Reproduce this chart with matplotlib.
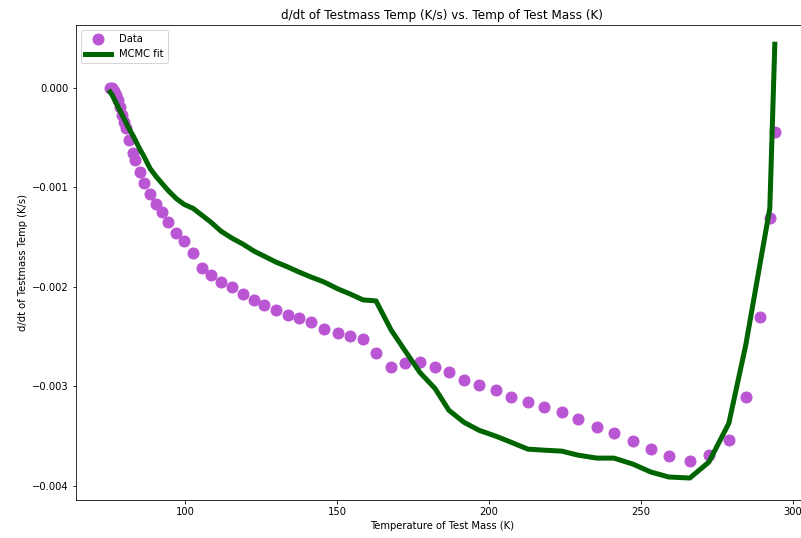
import matplotlib
matplotlib.use("Agg")
import matplotlib.pyplot as plt

temp = [75.33, 75.99, 76.64, 77.30, 77.96, 78.62, 79.28, 79.93, 80.59, 81.58,
        82.89, 83.55, 85.20, 86.51, 88.49, 90.46, 92.43, 94.41, 97.04, 99.67,
        102.63, 105.59, 108.55, 111.84, 115.46, 119.08, 122.70, 125.99, 129.93, 133.88,
        137.50, 141.45, 145.72, 150.33, 154.28, 158.55, 162.83, 167.76, 172.37, 177.30,
        182.24, 186.84, 191.78, 196.71, 202.30, 207.24, 212.83, 218.09, 224.01, 229.28,
        235.53, 241.12, 247.37, 253.29, 259.21, 266.12, 272.37, 278.95, 284.54, 289.14,
        292.43, 294.08]

rate = [0.0, 0.0, -0.00003, -0.00007, -0.00012, -0.00019, -0.00027, -0.00034, -0.00040, -0.00052,
        -0.00065, -0.00072, -0.00084, -0.00096, -0.00107, -0.00117, -0.00125, -0.00135, -0.00146, -0.00154,
        -0.00166, -0.00181, -0.00188, -0.00195, -0.00200, -0.00207, -0.00213, -0.00218, -0.00223, -0.00228,
        -0.00231, -0.00235, -0.00242, -0.00246, -0.00249, -0.00252, -0.00266, -0.00280, -0.00276, -0.00275,
        -0.00280, -0.00285, -0.00293, -0.00299, -0.00304, -0.00311, -0.00316, -0.00321, -0.00326, -0.00333,
        -0.00341, -0.00347, -0.00355, -0.00363, -0.00370, -0.00375, -0.00369, -0.00354, -0.00311, -0.00230,
        -0.00131, -0.00044]

fit = [-0.00004, -0.00007, -0.00011, -0.00015, -0.00019, -0.00023, -0.00027, -0.00031, -0.00035, -0.00041,
       -0.00048, -0.00052, -0.00062, -0.00069, -0.00081, -0.00089, -0.00096, -0.00103, -0.00111, -0.00117,
       -0.00121, -0.00128, -0.00135, -0.00144, -0.00151, -0.00157, -0.00164, -0.00169, -0.00175, -0.00180,
       -0.00185, -0.00190, -0.00195, -0.00202, -0.00207, -0.00213, -0.00214, -0.00243, -0.00264, -0.00286,
       -0.00302, -0.00324, -0.00336, -0.00344, -0.00350, -0.00356, -0.00363, -0.00364, -0.00365, -0.00369,
       -0.00372, -0.00372, -0.00378, -0.00386, -0.00391, -0.00392, -0.00376, -0.00337, -0.00258, -0.00178,
       -0.00121, 0.00044]

fig = plt.figure(figsize=(801 / 72, 538 / 72), dpi=72)
ax = fig.add_axes([76 / 801, 38 / 538, 732 / 801, 475 / 538])

ax.plot(temp, rate, 'o', color='mediumorchid', markersize=11, label='Data')
ax.plot(temp, fit, '-', color='darkgreen', linewidth=5, label='MCMC fit')

ax.set_xlim(64.1, 305.0)
ax.set_ylim(-0.004141, 0.000633)

ax.set_title('d/dt of Testmass Temp (K/s) vs. Temp of Test Mass (K)')
ax.set_xlabel('Temperature of Test Mass (K)')
ax.set_ylabel('d/dt of Testmass Temp (K/s)')
ax.legend(loc='upper left', handlelength=2.6)

fig.savefig('out.png', dpi=72)
